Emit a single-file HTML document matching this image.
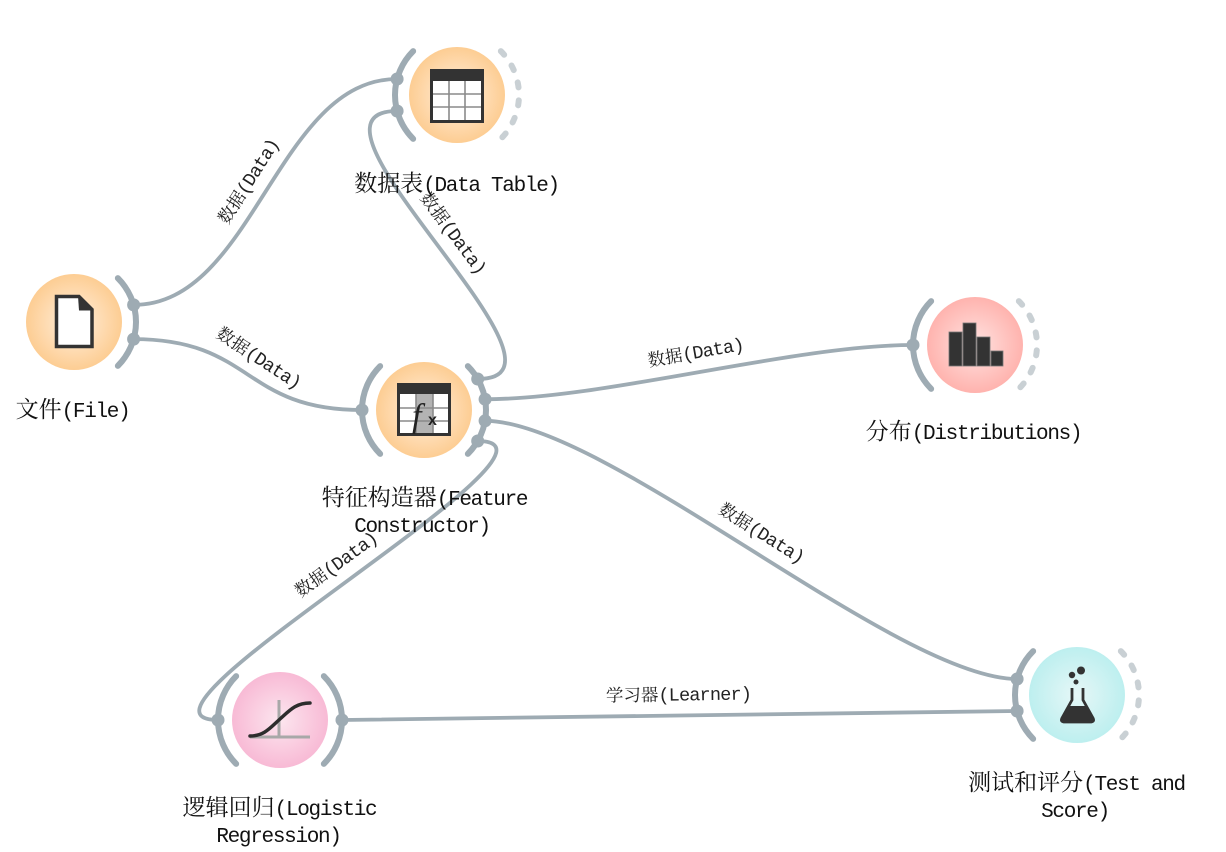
<!DOCTYPE html>
<html>
<head>
<meta charset="utf-8">
<style>
  html,body{margin:0;padding:0;background:#fff;}
  svg{display:block;}
  .lbl{font-family:"Liberation Mono","Noto Serif CJK SC",monospace;font-size:21px;letter-spacing:-1.3px;fill:#111;}
  .cj{font-family:"Noto Serif CJK SC","Noto Sans CJK SC",serif;font-size:23px;letter-spacing:0px;}
  .el{font-family:"Liberation Mono","Noto Serif CJK SC",monospace;font-size:18.5px;letter-spacing:-0.8px;fill:#222;}
  .ecj{font-family:"Noto Serif CJK SC","Noto Sans CJK SC",serif;font-size:17.5px;letter-spacing:0px;}
</style>
</head>
<body>
<svg width="1226" height="852" viewBox="0 0 1226 852" xmlns="http://www.w3.org/2000/svg">
  <defs>
    <radialGradient id="gOr" cx="50%" cy="50%" r="50%">
      <stop offset="0%" stop-color="#fff0df"/>
      <stop offset="100%" stop-color="#fdcd93"/>
    </radialGradient>
    <radialGradient id="gRed" cx="50%" cy="50%" r="50%">
      <stop offset="0%" stop-color="#ffe3e1"/>
      <stop offset="100%" stop-color="#ffb3ae"/>
    </radialGradient>
    <radialGradient id="gPink" cx="50%" cy="50%" r="50%">
      <stop offset="0%" stop-color="#fce6ef"/>
      <stop offset="100%" stop-color="#f8bad5"/>
    </radialGradient>
    <radialGradient id="gCyan" cx="50%" cy="50%" r="50%">
      <stop offset="0%" stop-color="#e6f7f7"/>
      <stop offset="100%" stop-color="#bdefef"/>
    </radialGradient>
  </defs>

  <!-- Edges -->
  <g fill="none" stroke="#9eabb3" stroke-width="3.8" stroke-linecap="round">
    <path d="M133.6,304.9 C253.6,304.9 277.1,79 397.1,79"/>
    <path d="M133.6,339.1 C253.6,339.1 242,410 362,410"/>
    <path d="M477.7,379 C597.7,379 277.1,111 397.1,111"/>
    <path d="M485.1,399.2 C605.1,399.2 793,345 913,345"/>
    <path d="M485.1,420.8 C605.1,420.8 897.1,679 1017.1,679"/>
    <path d="M477.7,441 C597.7,441 98,720 218,720"/>
    <path d="M342,720 C462,720 897.1,711 1017.1,711"/>
  </g>

  <!-- Edge labels -->
  <g class="el" text-anchor="middle">
    <text transform="translate(248.4,181.3) rotate(-57.6)" y="6"><tspan class="ecj">数据</tspan>(Data)</text>
    <text transform="translate(258.8,357.9) rotate(33.2)" y="6"><tspan class="ecj">数据</tspan>(Data)</text>
    <text transform="translate(453.3,233) rotate(53.2)" y="6"><tspan class="ecj">数据</tspan>(Data)</text>
    <text transform="translate(695.5,352.4) rotate(-10)" y="6"><tspan class="ecj">数据</tspan>(Data)</text>
    <text transform="translate(761.6,533) rotate(32.1)" y="6"><tspan class="ecj">数据</tspan>(Data)</text>
    <text transform="translate(336,564.4) rotate(-36.3)" y="6"><tspan class="ecj">数据</tspan>(Data)</text>
    <text transform="translate(678.5,694.5) rotate(-0.8)" y="6"><tspan class="ecj">学习器</tspan>(Learner)</text>
  </g>

  <!-- Solid anchor arcs -->
  <g fill="none" stroke="#9eabb3" stroke-width="6" stroke-linecap="round">
    <path d="M117.84,278.16 A62,62 0 0 1 117.84,365.84"/>
    <path d="M413.16,138.84 A62,62 0 0 1 413.16,51.16"/>
    <path d="M380.16,453.84 A62,62 0 0 1 380.16,366.16"/>
    <path d="M467.84,366.16 A62,62 0 0 1 467.84,453.84"/>
    <path d="M931.16,388.84 A62,62 0 0 1 931.16,301.16"/>
    <path d="M236.16,763.84 A62,62 0 0 1 236.16,676.16"/>
    <path d="M323.84,676.16 A62,62 0 0 1 323.84,763.84"/>
    <path d="M1033.16,738.84 A62,62 0 0 1 1033.16,651.16"/>
  </g>

  <!-- Dashed output arcs -->
  <g fill="none" stroke="#c9d0d4" stroke-width="6" stroke-linecap="round" stroke-dasharray="5 13">
    <path d="M500.84,51.16 A62,62 0 0 1 500.84,138.84"/>
    <path d="M1018.84,301.16 A62,62 0 0 1 1018.84,388.84"/>
    <path d="M1120.84,651.16 A62,62 0 0 1 1120.84,738.84"/>
  </g>

  <!-- Anchor dots -->
  <g fill="#9eabb3">
    <circle cx="133.6" cy="304.9" r="6.5"/>
    <circle cx="133.6" cy="339.1" r="6.5"/>
    <circle cx="397.1" cy="79" r="6.5"/>
    <circle cx="397.1" cy="111" r="6.5"/>
    <circle cx="362" cy="410" r="6.5"/>
    <circle cx="477.7" cy="379" r="6.5"/>
    <circle cx="485.1" cy="399.2" r="6.5"/>
    <circle cx="485.1" cy="420.8" r="6.5"/>
    <circle cx="477.7" cy="441" r="6.5"/>
    <circle cx="913" cy="345" r="6.5"/>
    <circle cx="218" cy="720" r="6.5"/>
    <circle cx="342" cy="720" r="6.5"/>
    <circle cx="1017.1" cy="679" r="6.5"/>
    <circle cx="1017.1" cy="711" r="6.5"/>
  </g>

  <!-- Node circles -->
  <circle cx="74" cy="322" r="48" fill="url(#gOr)"/>
  <circle cx="457" cy="95" r="48" fill="url(#gOr)"/>
  <circle cx="424" cy="410" r="48" fill="url(#gOr)"/>
  <circle cx="975" cy="345" r="48" fill="url(#gRed)"/>
  <circle cx="280" cy="720" r="48" fill="url(#gPink)"/>
  <circle cx="1077" cy="695" r="48" fill="url(#gCyan)"/>

  <!-- File icon -->
  <path d="M56.5,296.5 L79,296.5 L92,309.5 L92,346.5 L56.5,346.5 Z" fill="#fff" stroke="#333" stroke-width="3.5" stroke-linejoin="miter"/>
  <path d="M78,296 L92.5,310.5 L79,310.5 Z" fill="#333"/>

  <!-- Data Table icon -->
  <rect x="430" y="69" width="54" height="54" fill="#333"/>
  <rect x="433" y="81" width="48" height="39" fill="#fff"/>
  <g stroke="#8a8a8a" stroke-width="1.6">
    <line x1="449" y1="81" x2="449" y2="120"/>
    <line x1="465" y1="81" x2="465" y2="120"/>
    <line x1="433" y1="94" x2="481" y2="94"/>
    <line x1="433" y1="107" x2="481" y2="107"/>
  </g>

  <!-- Feature Constructor icon -->
  <rect x="397" y="383" width="54" height="53" fill="#333"/>
  <rect x="400" y="394" width="48" height="39" fill="#fff"/>
  <rect x="416" y="394" width="17" height="39" fill="#b3b3b3"/>
  <g stroke="#8a8a8a" stroke-width="1.6">
    <line x1="416" y1="394" x2="416" y2="433"/>
    <line x1="433" y1="394" x2="433" y2="433"/>
    <line x1="400" y1="408" x2="448" y2="408"/>
    <line x1="400" y1="421" x2="448" y2="421"/>
  </g>
  <text x="412" y="427" font-family="Liberation Serif, serif" font-style="italic" font-size="34" fill="#222">f</text>
  <text x="428" y="425" font-family="Liberation Sans, sans-serif" font-weight="bold" font-size="16" fill="#222">x</text>

  <!-- Distributions icon -->
  <g fill="#333" stroke="#777" stroke-width="0.8">
    <rect x="949" y="332" width="13" height="34"/>
    <rect x="963" y="323" width="13" height="43"/>
    <rect x="977" y="337" width="13" height="29"/>
    <rect x="991" y="351" width="12" height="15"/>
  </g>

  <!-- Logistic Regression icon -->
  <g stroke="#a8a8a8" stroke-width="3" fill="none">
    <line x1="250" y1="737" x2="310" y2="737"/>
    <line x1="279" y1="700" x2="279" y2="737"/>
  </g>
  <path d="M250,736 C264,736 270,728 280,719 C290,710 296,703 310,703" fill="none" stroke="#2d2d2d" stroke-width="3.5" stroke-linecap="round"/>

  <!-- Test and Score icon -->
  <path d="M1068,706 L1087,706 L1093,718 Q1095,722 1090,722 L1065,722 Q1060,722 1062,718 Z" fill="#333"/>
  <path d="M1072,688 L1072,700 L1062,718 Q1060,722 1065,722 L1090,722 Q1095,722 1093,718 L1083,700 L1083,688" fill="none" stroke="#333" stroke-width="2.8" stroke-linejoin="round"/>
  <circle cx="1072" cy="675" r="3.2" fill="#333"/>
  <circle cx="1081" cy="670.5" r="4" fill="#333"/>
  <circle cx="1076" cy="682" r="2.5" fill="#333"/>

  <!-- Node labels -->
  <g class="lbl" text-anchor="middle">
    <text x="72.5" y="417"><tspan class="cj">文件</tspan>(File)</text>
    <text x="456.5" y="191"><tspan class="cj">数据表</tspan>(Data Table)</text>
    <text x="424.5" y="505"><tspan class="cj">特征构造器</tspan>(Feature</text>
    <text x="422" y="532">Constructor)</text>
    <text x="973.5" y="439"><tspan class="cj">分布</tspan>(Distributions)</text>
    <text x="279.5" y="815"><tspan class="cj">逻辑回归</tspan>(Logistic</text>
    <text x="278.5" y="842">Regression)</text>
    <text x="1076.5" y="790"><tspan class="cj">测试和评分</tspan>(Test and</text>
    <text x="1075" y="817">Score)</text>
  </g>
</svg>
</body>
</html>
